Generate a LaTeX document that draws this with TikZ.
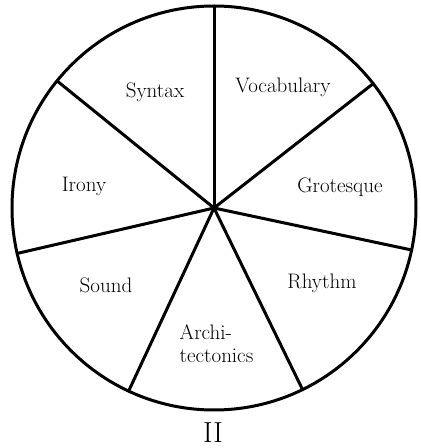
\documentclass[tikz,border=0pt]{standalone}
\begin{document}
\begin{tikzpicture}[x=1pt,y=1pt,
  lab/.style={font=\fontsize{21}{23}\selectfont, inner sep=0pt},
  spoke/.style={line width=3pt}]
\useasboundingbox (0,0) rectangle (421,448);
\coordinate (c) at (214,240);
\node[circle, draw, line width=3pt, minimum size=404pt, inner sep=0pt, outer sep=0pt] (circ) at (c) {};
\foreach \a in {90, 38.57, -12.86, -64.29, -115.71, -167.14, 141.43}
  \draw[spoke, line cap=round] (c) -- (circ.\a);
\node[lab] (syn) at (155,355.3) {Syntax};
\node[lab] (voc) at (283,361) {Vocabulary};
\node[lab] (iro) at (84,262) {Irony};
\node[lab] (gro) at (340,261) {Grotesque};
\node[lab] (sou) at (106,163) {Sound};
\node[lab] (rhy) at (322,165) {Rhythm};
\node[lab, align=left] (arc) at (216.5,104) {Archi-\\tectonics};
\node[font=\fontsize{29}{32}\selectfont, inner sep=0pt] (ii) at (213,15) {II};
\end{tikzpicture}
\end{document}
